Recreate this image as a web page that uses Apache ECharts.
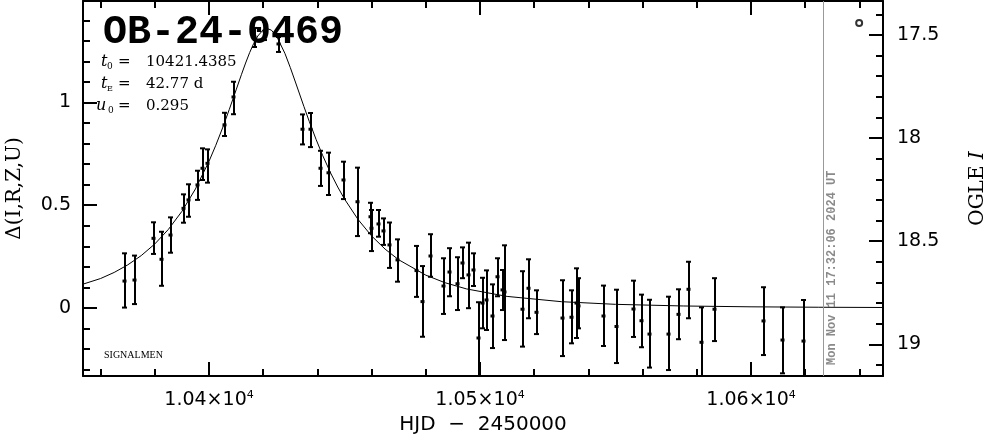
<!DOCTYPE html>
<html>
<head>
<meta charset="utf-8">
<script src="https://cdn.jsdelivr.net/npm/echarts@6/dist/echarts.min.js"></script>
<style>
html,body{margin:0;padding:0;background:#fff;}
#chart{width:986px;height:434px;}
</style>
</head>
<body>
<div id="chart"></div>
<script>
// ---- data ----
// observations: HJD-2450000, Delta, upper, lower
const obsT  = [10368.9,10372.8,10379.8,10382.8,10385.9,10390.9,10392.7,10395.8,10397.9,10399.7,
               10405.9,10409.2,10416.9,10420.7,10425.9,10434.8,10437.6,10441.2,10444.2,10449.9,
               10454.9,10459.8,10460.2,10462.8,10464.7,10466.9,10469.9,10476.9,10479.1,10481.9,
               10486.8,10489.0,10492.0,10493.8,10495.8,10497.9,10499.7,10501.0,10502.7,10504.8,
               10506.8,10508.3,10509.2,10516.0,10518.0,10520.9,10530.7,10533.8,10535.9,10536.7,
               10545.8,10550.7,10556.9,10559.9,10562.7,10569.7,10573.4,10577.0,10581.8,10586.7,
               10604.8,10611.9,10619.7];
const obsD  = [0.131,0.136,0.339,0.237,0.355,0.485,0.526,0.599,0.680,0.704,
               0.891,1.027,1.319,1.348,1.285,0.870,0.870,0.680,0.658,0.623,
               0.517,0.444,0.388,0.409,0.375,0.307,0.234,0.182,0.031,0.253,
               0.107,0.175,0.118,0.219,0.161,0.185,-0.146,0.024,0.039,-0.039,
               0.152,0.088,0.078,-0.006,0.096,-0.021,-0.049,-0.045,0.024,0.010,
               -0.039,-0.090,-0.005,-0.062,-0.127,-0.127,-0.031,0.091,-0.167,-0.006,
               -0.063,-0.156,-0.161];
const obsHi = [0.266,0.255,0.417,0.371,0.441,0.553,0.602,0.668,0.777,0.772,
               0.950,1.101,1.363,1.392,1.319,0.942,0.949,0.765,0.756,0.712,
               0.683,0.512,0.477,0.477,0.436,0.416,0.334,0.302,0.204,0.359,
               0.242,0.291,0.247,0.295,0.318,0.266,0.028,0.147,0.183,0.115,
               0.242,0.185,0.305,0.179,0.237,0.086,0.135,0.086,0.193,0.145,
               0.109,0.089,0.133,0.065,0.040,0.055,0.091,0.225,0.003,0.145,
               0.101,0.003,0.039];
const obsLo = [0.002,0.019,0.263,0.108,0.269,0.415,0.444,0.526,0.623,0.610,
               0.837,0.943,1.270,1.304,1.246,0.796,0.783,0.594,0.550,0.530,
               0.350,0.364,0.277,0.347,0.307,0.195,0.128,0.054,-0.140,0.152,
               -0.029,0.057,-0.010,0.145,-0.001,0.107,-0.340,-0.099,-0.107,-0.195,
               0.057,-0.010,-0.156,-0.188,-0.050,-0.127,-0.234,-0.172,-0.146,-0.099,
               -0.185,-0.268,-0.141,-0.191,-0.290,-0.302,-0.152,-0.050,-0.340,-0.161,
               -0.229,-0.318,-0.345];
// model curve (read along the plotted fit)
const modelT = [10353.5,10360,10365,10370,10375,10380,10385,10390,10395,10400,10402.5,10405,10407.5,10410,
                10412,10413.5,10415,10416.5,10418,10420,10421.44,10423,10425,10428,10430,10432,10435,10437,
                10439.5,10442,10445,10447.5,10450,10455,10460,10465,10470,10480,10487,10495,10510,10530,
                10550,10575,10600,10625,10648.7];
const modelD = [0.116,0.1435,0.1730,0.2097,0.2551,0.3117,0.3824,0.4702,0.5793,0.7140,0.7917,0.8761,0.9669,1.0614,
                1.1373,1.1921,1.2430,1.2877,1.3236,1.3534,1.3600,1.3523,1.3211,1.2392,1.1698,1.0950,0.9811,0.9076,
                0.8207,0.7405,0.6536,0.5887,0.5302,0.4306,0.3505,0.2862,0.2346,0.1597,0.1233,0.0928,0.0563,0.0307,
                0.0178,0.0098,0.0057,0.0036,0.0024];
const markerT = [10639.9];
const markerD = [1.387];
const nowT = 10626.6;

// axes / ticks
const XMIN = 10353.5, XMAX = 10648.7;
const YMIN = -0.331, YMAX = 1.494;
const MAGMIN = 17.335, MAGMAX = 19.154;
const xMajor = [10400, 10500, 10600];
const xMinor = [10360,10380,10420,10440,10460,10480,10520,10540,10560,10580,10620,10640];
const yMajor = [0, 0.5, 1];
const yMinor = [-0.3,-0.2,-0.1,0.1,0.2,0.3,0.4,0.6,0.7,0.8,0.9,1.1,1.2,1.3,1.4];
const magMajor = [17.5, 18, 18.5, 19];
const magMinor = [17.4,17.6,17.7,17.8,17.9,18.1,18.2,18.3,18.4,18.6,18.7,18.8,18.9,19.1];

const title = 'OB-24-0469';
const stamp = 'Mon Nov 11 17:32:06 2024 UT';

// ---- build ----
const obsData = obsT.map((t, i) => [t, obsD[i], obsHi[i], obsLo[i]]);
const modelData = modelT.map((t, i) => [t, modelD[i]]);
const markerData = markerT.map((t, i) => [t, markerD[i]]);

const BLACK = '#000';
const sans = 'DejaVu Sans';
const serif = 'DejaVu Serif';

function xAxisDef(pos, values, len, line, labels) {
  return {
    type: 'value', position: pos, min: XMIN, max: XMAX, gridIndex: 0,
    axisLine: {show: line, onZero: false, lineStyle: {color: BLACK, width: 2}},
    axisTick: {show: true, inside: true, length: len, customValues: values, lineStyle: {color: BLACK, width: 2}},
    axisLabel: labels ? {
      show: true, customValues: values, margin: 14, color: BLACK,
      formatter: v => '{a|' + (v / 1e4).toFixed(2) + '×10}{b|4}',
      rich: {a: {fontFamily: sans, fontSize: 19, color: BLACK}, b: {fontFamily: sans, fontSize: 11, color: BLACK, padding: [0, 0, 10, 0]}}
    } : {show: false},
    splitLine: {show: false}, minorTick: {show: false}
  };
}
function yAxisDef(pos, min, max, inv, values, len, line, labels) {
  return {
    type: 'value', position: pos, min: min, max: max, inverse: inv, gridIndex: 0,
    axisLine: {show: line, onZero: false, lineStyle: {color: BLACK, width: 2}},
    axisTick: {show: true, inside: true, length: len, customValues: values, lineStyle: {color: BLACK, width: 2}},
    axisLabel: labels ? {show: true, customValues: values, margin: pos === 'left' ? 12 : 14, color: BLACK, fontFamily: sans, fontSize: 19} : {show: false},
    splitLine: {show: false}, minorTick: {show: false}
  };
}

const xA0 = xAxisDef('bottom', xMajor, 14, true, true);
xA0.name = 'HJD  −  2450000';
xA0.nameLocation = 'middle';
xA0.nameGap = 39;
xA0.nameTextStyle = {fontFamily: sans, fontSize: 20, color: BLACK};

const yA0 = yAxisDef('left', YMIN, YMAX, false, yMajor, 14, true, true);
yA0.name = 'Δ(I,R,Z,U)';
yA0.nameLocation = 'middle';
yA0.nameRotate = 90;
yA0.nameGap = 58;
yA0.nameTextStyle = {fontFamily: serif, fontSize: 20, color: BLACK};

const yA2 = yAxisDef('right', MAGMIN, MAGMAX, true, magMajor, 14, true, true);
yA2.name = '{a|OGLE }{b|I}';
yA2.nameLocation = 'middle';
yA2.nameRotate = 90;
yA2.nameGap = 85;
yA2.nameTextStyle = {fontFamily: serif, fontSize: 20, color: BLACK,
  rich: {a: {fontFamily: serif, fontSize: 20, color: BLACK}, b: {fontFamily: serif, fontSize: 20, fontStyle: 'italic', color: BLACK}}};

const chart = echarts.init(document.getElementById('chart'), null, {renderer: 'canvas'});

function renderBar(params, api) {
  const t = api.value(0), d = api.value(1), hi = api.value(2), lo = api.value(3);
  const cs = params.coordSys;
  const top = cs.y, bot = cs.y + cs.height;
  const pc = api.coord([t, d]);
  const ph = api.coord([t, hi]);
  const pl = api.coord([t, lo]);
  const x = Math.round(pc[0]);
  const yH = Math.max(top, ph[1]);
  const yL = Math.min(bot, pl[1]);
  const st = {stroke: BLACK, lineWidth: 2};
  const ch = [
    {type: 'line', shape: {x1: x, y1: yH, x2: x, y2: yL}, style: st}
  ];
  if (ph[1] >= top) ch.push({type: 'line', shape: {x1: x - 3, y1: ph[1], x2: x + 2, y2: ph[1]}, style: st});
  if (pl[1] <= bot) ch.push({type: 'line', shape: {x1: x - 3, y1: pl[1], x2: x + 2, y2: pl[1]}, style: st});
  if (pc[1] >= top && pc[1] <= bot) ch.push({type: 'rect', shape: {x: x - 2.5, y: pc[1] - 1.5, width: 4, height: 3}, style: {fill: BLACK}});
  return {type: 'group', children: ch};
}

chart.setOption({
  animation: false,
  backgroundColor: '#fff',
  grid: {left: 83, right: 103, top: 1, bottom: 58, containLabel: false, outerBoundsMode: 'none'},
  xAxis: [
    xA0,
    xAxisDef('bottom', xMinor, 7, false, false),
    xAxisDef('top', xMajor, 14, true, false),
    xAxisDef('top', xMinor, 7, false, false)
  ],
  yAxis: [
    yA0,
    yAxisDef('left', YMIN, YMAX, false, yMinor, 7, false, false),
    yA2,
    yAxisDef('right', MAGMIN, MAGMAX, true, magMinor, 7, false, false)
  ],
  graphic: [
    {type: 'text', x: 103, y: 33, style: {text: title, fontFamily: 'Liberation Mono', fontWeight: 'bold', fontSize: 40, fill: BLACK, verticalAlign: 'middle'}},
    {type: 'text', x: 101, y: 62, style: {text: 't', fontFamily: serif, fontStyle: 'italic', fontSize: 16, fill: BLACK, verticalAlign: 'middle'}},
    {type: 'text', x: 107, y: 67, style: {text: '0', fontFamily: serif, fontSize: 9, fill: BLACK, verticalAlign: 'middle'}},
    {type: 'text', x: 118, y: 62, style: {text: '=', fontFamily: serif, fontSize: 15, fill: BLACK, verticalAlign: 'middle'}},
    {type: 'text', x: 146, y: 62, style: {text: '10421.4385', fontFamily: serif, fontSize: 15, fill: BLACK, verticalAlign: 'middle'}},
    {type: 'text', x: 101, y: 84, style: {text: 't', fontFamily: serif, fontStyle: 'italic', fontSize: 16, fill: BLACK, verticalAlign: 'middle'}},
    {type: 'text', x: 107, y: 89, style: {text: 'E', fontFamily: serif, fontSize: 8, fill: BLACK, verticalAlign: 'middle'}},
    {type: 'text', x: 118, y: 84, style: {text: '=', fontFamily: serif, fontSize: 15, fill: BLACK, verticalAlign: 'middle'}},
    {type: 'text', x: 146, y: 84, style: {text: '42.77 d', fontFamily: serif, fontSize: 15, fill: BLACK, verticalAlign: 'middle'}},
    {type: 'text', x: 96, y: 106, style: {text: 'u', fontFamily: serif, fontStyle: 'italic', fontSize: 16, fill: BLACK, verticalAlign: 'middle'}},
    {type: 'text', x: 108, y: 111, style: {text: '0', fontFamily: serif, fontSize: 9, fill: BLACK, verticalAlign: 'middle'}},
    {type: 'text', x: 118, y: 106, style: {text: '=', fontFamily: serif, fontSize: 15, fill: BLACK, verticalAlign: 'middle'}},
    {type: 'text', x: 146, y: 106, style: {text: '0.295', fontFamily: serif, fontSize: 15, fill: BLACK, verticalAlign: 'middle'}},
    {type: 'text', x: 104, y: 355, style: {text: 'SIGNALMEN', fontFamily: 'Liberation Serif', fontSize: 10, fill: BLACK, verticalAlign: 'middle'}},
    {type: 'text', x: 832, y: 365, rotation: Math.PI / 2, style: {text: stamp, fontFamily: 'Liberation Mono', fontWeight: 'bold', fontSize: 12, fill: '#8a8a8a', align: 'left', verticalAlign: 'middle'}}
  ],
  series: [
    {
      type: 'line', xAxisIndex: 0, yAxisIndex: 0, data: modelData, showSymbol: false,
      smooth: false, lineStyle: {color: BLACK, width: 1}, silent: true,
      markLine: {silent: true, symbol: ['none', 'none'], label: {show: false},
        lineStyle: {color: '#999', width: 1, type: 'solid'}, data: [{xAxis: nowT}]}
    },
    {
      type: 'custom', xAxisIndex: 0, yAxisIndex: 0, data: obsData, renderItem: renderBar,
      encode: {x: 0, y: 1}, silent: true
    },
    {
      type: 'scatter', xAxisIndex: 0, yAxisIndex: 0, data: markerData, symbol: 'emptyCircle', symbolSize: 6,
      itemStyle: {color: BLACK, borderColor: BLACK, borderWidth: 1.5}, silent: true
    }
  ]
});
</script>
</body>
</html>
